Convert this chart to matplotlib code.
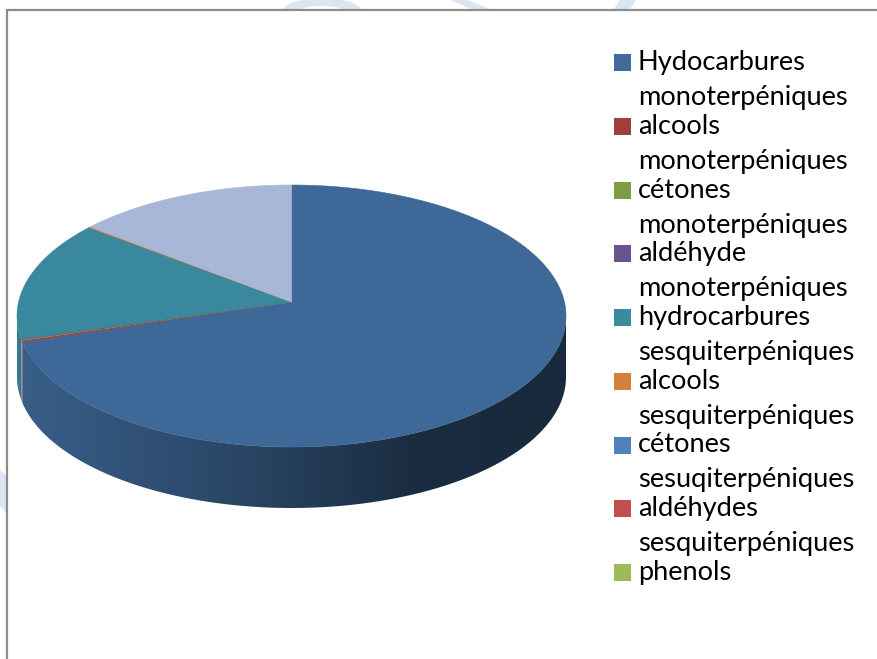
import numpy as np
import matplotlib
matplotlib.use("Agg")
import matplotlib.pyplot as plt
from matplotlib.patches import Polygon, Rectangle
from matplotlib.colors import to_rgb

# ---- data ----
categories = [
    "Hydocarbures\nmonoterpéniques",
    "alcools\nmonoterpéniques",
    "cétones\nmonoterpéniques",
    "aldéhyde\nmonoterpéniques",
    "hydrocarbures\nsesquiterpéniques",
    "alcools\nsesquiterpéniques",
    "cétones\nsesuqiterpéniques",
    "aldéhydes\nsesquiterpéniques",
    "phenols",
]
values = [71.8, 0.2, 0.1, 0.1, 14.6, 0.1, 13.1, 0.0, 0.0]
legend_colors = ["#41699b", "#a0403d", "#7e9c45", "#6a5490", "#3a8aa0",
                 "#d2803a", "#4f81bd", "#c0504d", "#9bbb59"]
slice_colors = ["#3e6897", "#9c3f3c", "#7b9944", "#68528d", "#3a889e",
                "#cf7e39", "#a8b7d7", "#bd4f4c", "#98b858"]

W, H = 877, 659
fig = plt.figure(figsize=(W / 100, H / 100), dpi=100)
ax = fig.add_axes([0, 0, 1, 1])
ax.set_xlim(0, W)
ax.set_ylim(H, 0)
ax.axis("off")

# faint watermark behind the chart frame
wm = "#dce6f2"
th = np.linspace(0, np.pi, 40)
ring = np.concatenate([np.c_[322 + 40 * np.cos(th), 12 - 14 * np.sin(th)],
                       np.c_[322 + 24 * np.cos(th[::-1]), 12 - 6 * np.sin(th[::-1])]])
ax.add_patch(Polygon(ring, closed=True, fc=wm, ec="none", zorder=0))
ax.add_patch(Polygon([[450, 0], [468, 0], [497, 12], [478, 12]], fc=wm, ec="none", zorder=0))
ax.add_patch(Polygon([[612, 12], [628, 12], [636, 0], [620, 0]], fc=wm, ec="none", zorder=0))
ax.add_patch(Polygon([[0, 470], [7, 476], [7, 514], [0, 506]], fc=wm, ec="none", zorder=0))

# chart frame
ax.add_patch(Rectangle((7, 10), W, H, fc="white", ec="#8c8c8c", lw=1.6, zorder=1))

# ---- 3D pie geometry ----
cx, cy, rx, ry, thick = 291.5, 316.0, 274.5, 131.0, 61.0
apex = (cx, cy - 14.0)


def rim(t, dz=0.0):
    t = np.radians(t)
    return np.c_[cx + rx * np.sin(t), cy - ry * np.cos(t) + dz]


def shade(x):
    return np.interp(x, [10, 250, 420, 600], [0.92, 0.66, 0.42, 0.40])


total = sum(values)
bounds = np.concatenate([[0], np.cumsum(values) / total * 360.0])

# side walls
gx = np.linspace(10, 575, 400)
for i, col in enumerate(slice_colors):
    a, b = bounds[i], bounds[i + 1]
    a2, b2 = max(a, 90.0), min(b, 270.0)
    if b2 - a2 <= 0:
        continue
    t = np.linspace(a2, b2, 200)
    poly = np.concatenate([rim(t), rim(t[::-1], thick)])
    patch = Polygon(poly, closed=True, fc="none", ec="none")
    ax.add_patch(patch)
    base = np.array(to_rgb(col))
    img = (base[None, None, :] * shade(gx)[None, :, None])
    img = np.clip(img, 0, 1)
    im = ax.imshow(img, extent=(gx[0], gx[-1], cy + ry + thick + 2, cy - ry - 2),
                   aspect="auto", zorder=2, interpolation="bilinear")
    im.set_clip_path(patch)

# top faces
for i, col in enumerate(slice_colors):
    a, b = bounds[i], bounds[i + 1]
    if b - a <= 0:
        continue
    t = np.linspace(a, b, max(3, int((b - a) * 2)))
    poly = np.vstack([[apex], rim(t)])
    ax.add_patch(Polygon(poly, closed=True, fc=col, ec=col, lw=0.4, zorder=3))

# ---- legend ----
family = ["Lato", "DejaVu Sans"]
renderer = fig.canvas.get_renderer()
probe = fig.text(0, 0, "monoterpéniques", fontsize=16, family=family)
w = probe.get_window_extent(renderer).width
probe.remove()
fs = 16 * 212.0 / w

y0, step, line2 = 62.5, 63.75, 35.0
for i, (lab, col) in enumerate(zip(categories, legend_colors)):
    yc = y0 + i * step
    ax.add_patch(Rectangle((614, yc - 8.5), 17, 17, fc=col, ec="none", zorder=4))
    lines = lab.split("\n")
    for j, ln in enumerate(lines):
        ax.text(638, yc + j * line2, ln, fontsize=fs, family=family,
                va="center", ha="left", color="#000000", zorder=4)

fig.savefig("out.png", dpi=100)
